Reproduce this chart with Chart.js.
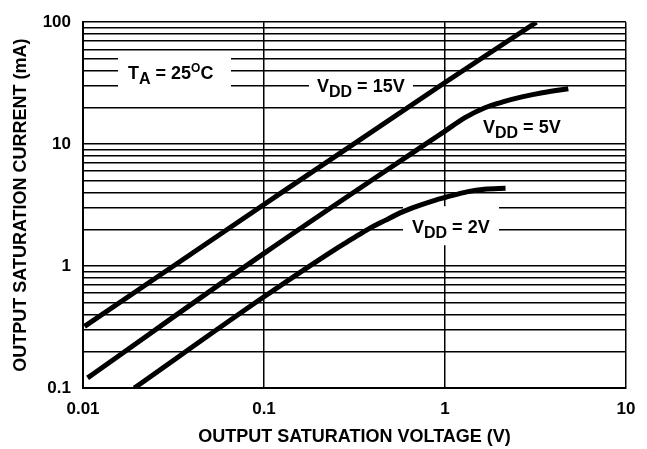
<!DOCTYPE html>
<html><head><meta charset="utf-8">
<script src="https://cdn.jsdelivr.net/npm/chart.js@4/dist/chart.umd.min.js"></script>
<style>html,body{margin:0;padding:0;background:#fff;}#wrap{width:647px;height:449px;}</style>
</head><body><div id="wrap"><canvas id="c" width="647" height="449"></canvas></div>
<script>
// ---- data ----
const xTickValues = [0.01, 0.1, 1, 10];
const yDecades = [0.1, 1, 10, 100];
const yTickValues = [0.1,0.2,0.3,0.4,0.5,0.6,0.7,0.8,0.9,1,2,3,4,5,6,7,8,9,10,20,30,40,50,60,70,80,90,100];

const volts15 = [0.0102, 0.1, 1, 3.2];
const amps15  = [0.32, 3.2, 32, 100];

const volts5 = [0.0106, 0.1, 0.78, 1, 1.29, 1.65, 2.11, 2.7, 3.45, 4.8];
const amps5  = [0.121, 1.27, 10, 12.8, 16.5, 19.8, 22.3, 24.5, 26.4, 28.5];

const volts2 = [0.0192, 0.1, 0.245, 0.305, 0.377, 0.467, 0.578, 0.716, 0.887, 1.0, 1.34, 1.65, 2.16];
const amps2  = [0.1, 0.56, 1.36, 1.66, 2.01, 2.37, 2.77, 3.13, 3.48, 3.65, 4.08, 4.27, 4.35];

const seriesNames = ['VDD = 15V', 'VDD = 5V', 'VDD = 2V'];

// ---- helpers ----
const FONT = '"Liberation Sans", Arial, Helvetica, sans-serif';
const pts = (xs, ys) => xs.map((x, i) => ({x, y: ys[i]}));
const fmt = v => String(v);

function richText(ctx, x, y, parts) {
  let cx = x;
  ctx.textBaseline = 'alphabetic';
  ctx.textAlign = 'left';
  ctx.fillStyle = '#000';
  for (const p of parts) {
    ctx.font = 'bold ' + p.size + 'px ' + FONT;
    ctx.fillText(p.t, cx, y + p.dy);
    cx += ctx.measureText(p.t).width;
  }
}

const labelPlugin = {
  id: 'curveLabels',
  beforeDatasetsDraw(chart) {
    const {ctx, chartArea: a} = chart;
    ctx.save();
    ctx.fillStyle = '#fff';
    // gaps in the grid behind the labels
    ctx.fillRect(a.left + 35, a.top + 32, 113, 48);
    ctx.fillRect(a.left + 226, a.top + 54, 104, 26);
    ctx.fillRect(a.left + 320, a.top + 184, 96, 39);
    richText(ctx, a.left + 45, a.top + 56.5, [
      {t:'T', size:18, dy:0}, {t:'A', size:16, dy:5}, {t:' = 25', size:18, dy:0},
      {t:'O', size:12, dy:-7}, {t:'C', size:18, dy:0}]);
    richText(ctx, a.left + 234, a.top + 70, [
      {t:'V', size:18, dy:0}, {t:'DD', size:16, dy:5}, {t:' = 15V', size:18, dy:0}]);
    richText(ctx, a.left + 400, a.top + 111, [
      {t:'V', size:18, dy:0}, {t:'DD', size:16, dy:5}, {t:' = 5V', size:18, dy:0}]);
    richText(ctx, a.left + 329, a.top + 211, [
      {t:'V', size:18, dy:0}, {t:'DD', size:16, dy:5}, {t:' = 2V', size:18, dy:0}]);
    ctx.restore();
  }
};

const lineStyle = {borderColor:'#000', backgroundColor:'#000', borderWidth:5, pointRadius:0, cubicInterpolationMode:'monotone', fill:false};

new Chart(document.getElementById('c'), {
  type: 'line',
  data: {
    datasets: [
      Object.assign({label: seriesNames[0], data: pts(volts15, amps15)}, lineStyle),
      Object.assign({label: seriesNames[1], data: pts(volts5, amps5)}, lineStyle),
      Object.assign({label: seriesNames[2], data: pts(volts2, amps2)}, lineStyle)
    ]
  },
  options: {
    responsive: false,
    animation: false,
    devicePixelRatio: 1,
    layout: {padding: {top: 16, right: 21, left: 0, bottom: 0}},
    plugins: {legend: {display: false}, tooltip: {enabled: false}},
    scales: {
      x: {
        type: 'logarithmic', min: 0.01, max: 10,
        afterBuildTicks: s => { s.ticks = xTickValues.map(v => ({value: v})); },
        afterFit: s => { s.height = 61; },
        grid: {color: '#000', lineWidth: 1.5, drawTicks: false},
        border: {color: '#000', width: 2},
        ticks: {autoSkip: false, maxRotation: 0, padding: 11, color: '#000',
                font: {family: FONT, size: 17, weight: 'bold'},
                callback: v => fmt(v)},
        title: {display: true, text: 'OUTPUT SATURATION VOLTAGE (V)', color: '#000',
                font: {family: FONT, size: 18, weight: 'bold'}, padding: {top: 0, bottom: 1}}
      },
      y: {
        type: 'logarithmic', min: 0.1, max: 100,
        afterBuildTicks: s => { s.ticks = yTickValues.map(v => ({value: v})); },
        afterFit: s => { s.width = 83; },
        grid: {color: '#000', lineWidth: 1.5, drawTicks: false},
        border: {color: '#000', width: 2},
        ticks: {autoSkip: false, padding: 12, color: '#000',
                font: {family: FONT, size: 17, weight: 'bold'},
                callback: v => yDecades.includes(v) ? fmt(v) : ''},
        title: {display: true, text: 'OUTPUT SATURATION CURRENT (mA)', color: '#000',
                font: {family: FONT, size: 18, weight: 'bold'}, padding: {top: 10, bottom: 0}}
      }
    }
  },
  plugins: [labelPlugin]
});
</script></body></html>
